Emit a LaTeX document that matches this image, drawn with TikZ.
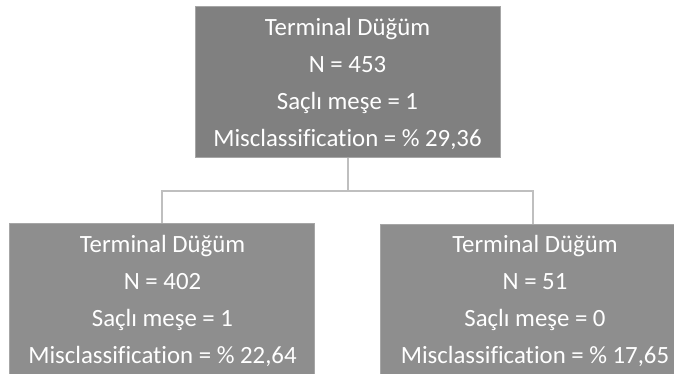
\documentclass[tikz,border=0pt]{standalone}
\usepackage{fontspec}
\setmainfont[Ligatures=NoCommon]{Carlito}
\definecolor{boxfill}{HTML}{808080}
\definecolor{boxfillb}{HTML}{8E8E8E}
\definecolor{boxline}{HTML}{A6A6A6}
\definecolor{connc}{HTML}{BFBFBF}
\begin{document}
\begin{tikzpicture}[x=1pt,y=-1pt,
  leaf/.style={rectangle, draw=boxline, line width=0.8pt, minimum width=305pt, minimum height=151pt, inner sep=0pt, anchor=north west},
  txt/.style={anchor=base, text=white, font=\fontsize{24.8}{30}\selectfont, inner sep=0pt},
  link/.style={draw=connc, line width=1.6pt}]
\clip (0,0) rectangle (674,373);
\node[leaf, fill=boxfill] (top) at (195,6) {};
\node[leaf, fill=boxfillb] (left) at (9,223) {};
\node[leaf, fill=boxfillb] (right) at (380,224) {};
\node[txt] (t1) at (347.5,35) {Terminal Düğüm};
\node[txt] (t2) at (347.5,72) {N = 453};
\node[txt] (t3) at (347.5,109) {Saçlı meşe = 1};
\node[txt] (t4) at (347.5,146) {Misclassification = \% 29,36};
\node[txt] (l1) at (162.5,252) {Terminal Düğüm};
\node[txt] (l2) at (162.5,289) {N = 402};
\node[txt] (l3) at (162.5,326) {Saçlı meşe = 1};
\node[txt] (l4) at (162.5,363) {Misclassification = \% 22,64};
\node[txt] (r1) at (535,252) {Terminal Düğüm};
\node[txt] (r2) at (535,289) {N = 51};
\node[txt] (r3) at (535,326) {Saçlı meşe = 0};
\node[txt] (r4) at (535,363) {Misclassification = \% 17,65};
\coordinate (j) at (top.south |- 0,191);
\draw[link] (top.south) -- (j);
\draw[link] (left.north) |- (j) -| (right.north);
\end{tikzpicture}
\end{document}
